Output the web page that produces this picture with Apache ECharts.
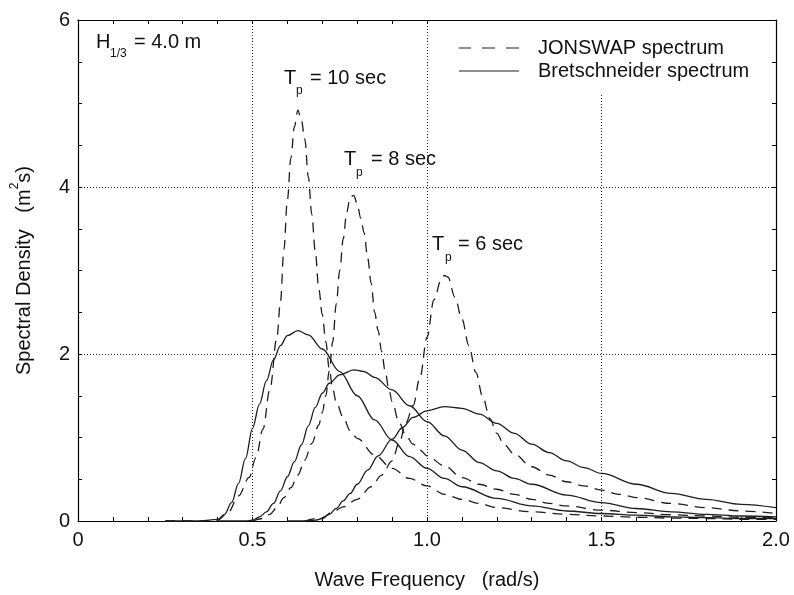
<!DOCTYPE html>
<html>
<head>
<meta charset="utf-8">
<script src="https://cdn.jsdelivr.net/npm/echarts@6/dist/echarts.min.js"></script>
<style>html,body{margin:0;padding:0;background:#fff}#c{width:794px;height:595px}</style>
</head>
<body>
<div id="c"></div>
<script>
// ---- data ----
const xTicks = [0, 0.5, 1.0, 1.5, 2.0];
const yTicks = [0, 2, 4, 6];
const seriesNames = ['JONSWAP spectrum', 'Bretschneider spectrum'];

// Bretschneider, Tp = 10 s
const freqB10 = [0.25,0.30,0.35,0.40,0.42,0.44,0.46,0.48,0.50,0.52,0.54,0.56,0.58,0.60,0.63,0.66,0.70,0.75,0.80,0.85,0.90,0.95,1.00,1.05,1.10,1.20,1.30,1.40,1.50,1.60,1.70,1.80,1.90,2.00];
const densB10 = [0,0,0,0.02,0.08,0.22,0.45,0.75,1.11,1.40,1.68,1.93,2.10,2.22,2.28,2.23,2.06,1.79,1.50,1.21,0.97,0.77,0.63,0.51,0.41,0.27,0.18,0.12,0.09,0.07,0.05,0.04,0.03,0.03];
// JONSWAP, Tp = 10 s
const freqJ10 = [0.25,0.35,0.40,0.43,0.46,0.49,0.51,0.53,0.55,0.57,0.58,0.59,0.60,0.61,0.62,0.63,0.64,0.65,0.66,0.67,0.68,0.69,0.70,0.71,0.72,0.73,0.74,0.76,0.78,0.80,0.85,0.90,0.95,1.00,1.05,1.10,1.15,1.20,1.30,1.40,1.50,1.60,1.70,1.80,1.90,2.00];
const densJ10 = [0,0,0.01,0.10,0.30,0.52,0.76,1.10,1.58,2.20,2.62,3.25,3.85,4.35,4.72,4.92,4.80,4.57,4.12,3.67,3.22,2.78,2.47,2.15,1.82,1.58,1.42,1.24,1.08,0.99,0.79,0.63,0.51,0.42,0.32,0.26,0.21,0.16,0.11,0.08,0.06,0.045,0.035,0.03,0.02,0.02];
// Bretschneider, Tp = 8 s
const freqB8 = [0.40,0.48,0.50,0.52,0.54,0.56,0.58,0.60,0.62,0.64,0.66,0.68,0.70,0.72,0.75,0.79,0.82,0.85,0.90,0.95,1.00,1.05,1.10,1.15,1.20,1.25,1.30,1.40,1.50,1.60,1.70,1.80,1.90,2.00];
const densB8 = [0,0,0.01,0.05,0.11,0.21,0.36,0.53,0.71,0.91,1.14,1.36,1.53,1.65,1.75,1.81,1.79,1.72,1.57,1.38,1.19,1.02,0.85,0.70,0.60,0.51,0.44,0.31,0.22,0.15,0.11,0.08,0.06,0.05];
// JONSWAP, Tp = 8 s
const freqJ8 = [0.50,0.53,0.55,0.57,0.59,0.61,0.63,0.65,0.67,0.69,0.70,0.71,0.72,0.73,0.74,0.75,0.76,0.77,0.78,0.79,0.80,0.81,0.82,0.83,0.84,0.85,0.86,0.87,0.88,0.89,0.90,0.92,0.94,0.96,0.98,1.00,1.05,1.10,1.15,1.20,1.25,1.30,1.35,1.40,1.50,1.60,1.70,1.80,1.90,2.00];
const densJ8 = [0,0.03,0.08,0.16,0.28,0.40,0.55,0.73,0.93,1.15,1.30,1.50,1.80,2.15,2.60,3.00,3.38,3.70,3.88,3.90,3.80,3.63,3.45,3.15,2.85,2.50,2.28,2.03,1.80,1.60,1.43,1.18,1.02,0.92,0.85,0.78,0.66,0.52,0.44,0.38,0.32,0.26,0.21,0.18,0.13,0.10,0.075,0.06,0.045,0.04];
// Bretschneider, Tp = 6 s
const freqB6 = [0.60,0.65,0.68,0.70,0.72,0.74,0.76,0.78,0.80,0.83,0.86,0.90,0.93,0.96,1.00,1.05,1.10,1.15,1.20,1.25,1.30,1.35,1.40,1.45,1.50,1.60,1.70,1.80,1.90,2.00];
const densB6 = [0,0,0.01,0.03,0.08,0.15,0.24,0.33,0.44,0.61,0.78,0.98,1.12,1.24,1.32,1.37,1.35,1.28,1.17,1.05,0.92,0.82,0.72,0.64,0.57,0.44,0.33,0.26,0.20,0.16];
// JONSWAP, Tp = 6 s
const freqJ6 = [0.65,0.70,0.73,0.76,0.80,0.84,0.87,0.90,0.92,0.94,0.96,0.98,1.00,1.02,1.04,1.05,1.06,1.08,1.10,1.12,1.14,1.16,1.18,1.20,1.22,1.25,1.30,1.35,1.40,1.45,1.50,1.55,1.60,1.70,1.80,1.90,2.00];
const densJ6 = [0,0.04,0.11,0.17,0.26,0.41,0.55,0.72,0.93,1.18,1.38,1.72,2.20,2.65,2.88,2.94,2.92,2.68,2.42,2.10,1.78,1.48,1.23,1.05,0.92,0.80,0.65,0.55,0.47,0.42,0.37,0.32,0.28,0.21,0.16,0.12,0.09];

const pair = (xs, ys) => xs.map((x, i) => [x, ys[i]]);

const FONT = 'Liberation Sans, Arial, sans-serif';
const FS = 20;
const SUB = 12;
const INK = '#111';
const LINE = '#1e1e1e';

function curve(name, xs, ys, dashed) {
  return {
    name: name, type: 'line', data: pair(xs, ys),
    showSymbol: false, symbol: 'none', smooth: 0.35, smoothMonotone: 'x',
    lineStyle: { color: LINE, width: 1.3, type: dashed ? [10, 7] : 'solid' },
    itemStyle: { color: LINE },
    emphasis: { disabled: true }, silent: true
  };
}

const frameAxisCommon = {
  min: 0, axisLine: { show: true, onZero: false, lineStyle: { color: '#000', width: 1.2 } },
  axisTick: { show: true, inside: true, length: 4, lineStyle: { color: '#000' } },
  minorTick: { show: true, length: 4, lineStyle: { color: '#000' } }
};

// legend sample glyphs (line samples drawn as thin shapes)
const dashIcon = 'path://M0,0H12V1H0Z M23,0H36V1H23Z M47,0H60V1H47Z';
const solidIcon = 'path://M0,0H60V1H0Z';

const chart = echarts.init(document.getElementById('c'), null, { renderer: 'canvas' });
chart.setOption({
  animation: false,
  backgroundColor: '#fff',
  grid: { left: 78, right: 18, top: 20, bottom: 72, containLabel: false },
  legend: {
    data: [ { name: seriesNames[0], icon: dashIcon }, { name: seriesNames[1], icon: solidIcon } ],
    orient: 'vertical', left: 452, top: 21,
    padding: [17, 12, 14, 7], itemGap: 3, itemWidth: 60, itemHeight: 1.6,
    itemStyle: { color: LINE, borderWidth: 0 },
    backgroundColor: '#fff', z: 10, selectedMode: false,
    textStyle: { fontSize: FS, fontFamily: FONT, color: INK, lineHeight: 20, padding: [0, 0, 0, 14] }
  },
  xAxis: [
    Object.assign({}, frameAxisCommon, {
      type: 'value', position: 'bottom', max: 2, interval: 0.5,
      minorTick: Object.assign({}, frameAxisCommon.minorTick, { splitNumber: 5 }),
      axisLabel: { fontSize: FS, fontFamily: FONT, color: INK, margin: 9,
        formatter: v => (xTicks.indexOf(v) >= 0 ? (v === 0 ? '0' : v.toFixed(1)) : '') },
      splitLine: { show: true, lineStyle: { color: '#222', width: 1, type: [1, 2] } },
      name: 'Wave Frequency   (rad/s)', nameLocation: 'middle', nameGap: 49,
      nameTextStyle: { fontSize: FS, fontFamily: FONT, color: INK }
    }),
    Object.assign({}, frameAxisCommon, {
      type: 'value', position: 'top', max: 2, interval: 0.5,
      minorTick: Object.assign({}, frameAxisCommon.minorTick, { splitNumber: 5 }),
      axisLabel: { show: false }, splitLine: { show: false }
    })
  ],
  yAxis: [
    Object.assign({}, frameAxisCommon, {
      type: 'value', position: 'left', max: 6, interval: 2,
      minorTick: Object.assign({}, frameAxisCommon.minorTick, { splitNumber: 4 }),
      axisLabel: { fontSize: FS, fontFamily: FONT, color: INK, margin: 8,
        formatter: v => (yTicks.indexOf(v) >= 0 ? String(v) : '') },
      splitLine: { show: true, lineStyle: { color: '#222', width: 1, type: [1, 2] } },
      name: '{n|Spectral Density   (m}{s|2}{n|s)}', nameLocation: 'middle', nameGap: 44, nameRotate: 90,
      nameTextStyle: { fontSize: FS, fontFamily: FONT, color: INK,
        rich: { n: { fontSize: FS, fontFamily: FONT, color: INK, lineHeight: 25, verticalAlign: 'bottom' },
                s: { fontSize: SUB, fontFamily: FONT, color: INK, lineHeight: 12, verticalAlign: 'top' } } }
    }),
    Object.assign({}, frameAxisCommon, {
      type: 'value', position: 'right', max: 6, interval: 2,
      minorTick: Object.assign({}, frameAxisCommon.minorTick, { splitNumber: 4 }),
      axisLabel: { show: false }, splitLine: { show: false }
    })
  ],
  series: [
    curve(seriesNames[0], freqJ10, densJ10, true),
    curve(seriesNames[0], freqJ8, densJ8, true),
    curve(seriesNames[0], freqJ6, densJ6, true),
    curve(seriesNames[1], freqB10, densB10, false),
    curve(seriesNames[1], freqB8, densB8, false),
    curve(seriesNames[1], freqB6, densB6, false)
  ],
  graphic: [
    // H1/3 = 4.0 m
    { type: 'text', left: 96, top: 32, style: { text: 'H', fontSize: FS, fontFamily: FONT, fill: INK } },
    { type: 'text', left: 110, top: 48, style: { text: '1/3', fontSize: SUB, fontFamily: FONT, fill: INK } },
    { type: 'text', left: 134, top: 32, style: { text: '= 4.0 m', fontSize: FS, fontFamily: FONT, fill: INK } },
    // Tp = 10 sec
    { type: 'text', left: 284, top: 68, style: { text: 'T', fontSize: FS, fontFamily: FONT, fill: INK } },
    { type: 'text', left: 296, top: 85, style: { text: 'p', fontSize: SUB, fontFamily: FONT, fill: INK } },
    { type: 'text', left: 310, top: 68, style: { text: '= 10 sec', fontSize: FS, fontFamily: FONT, fill: INK } },
    // Tp = 8 sec
    { type: 'text', left: 344, top: 149, style: { text: 'T', fontSize: FS, fontFamily: FONT, fill: INK } },
    { type: 'text', left: 356, top: 167, style: { text: 'p', fontSize: SUB, fontFamily: FONT, fill: INK } },
    { type: 'text', left: 371, top: 149, style: { text: '= 8 sec', fontSize: FS, fontFamily: FONT, fill: INK } },
    // Tp = 6 sec
    { type: 'text', left: 432, top: 234, style: { text: 'T', fontSize: FS, fontFamily: FONT, fill: INK } },
    { type: 'text', left: 445, top: 252, style: { text: 'p', fontSize: SUB, fontFamily: FONT, fill: INK } },
    { type: 'text', left: 458, top: 234, style: { text: '= 6 sec', fontSize: FS, fontFamily: FONT, fill: INK } }
  ]
});
</script>
</body>
</html>
